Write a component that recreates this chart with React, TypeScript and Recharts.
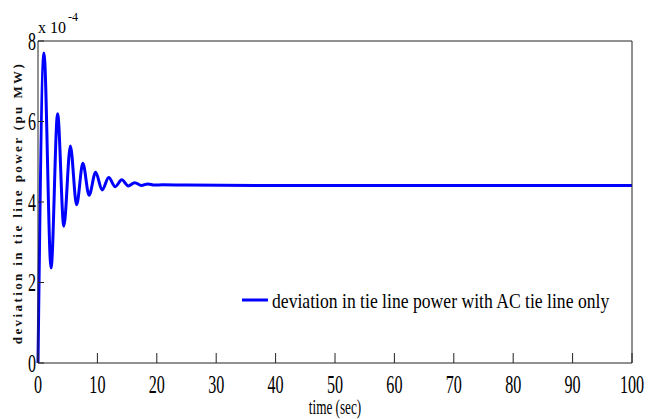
import React from "react";
import {
  LineChart,
  Line,
  XAxis,
  YAxis,
  Legend,
  Label,
} from "recharts";

// time in sec, deviation in units of 1e-4 pu MW
const timeSec = [
  0, 1.0, 2.2, 3.3, 4.35, 5.45, 6.5, 7.55, 8.6, 9.7, 10.8, 11.9, 13.0, 14.1,
  15.2, 16.3, 17.4, 18.5, 19.6, 21, 25, 40, 60, 80, 100,
];
const tieDev = [
  0, 7.7, 2.36, 6.19, 3.4, 5.39, 3.93, 4.96, 4.17, 4.74, 4.3, 4.61, 4.38, 4.55,
  4.4, 4.48, 4.41, 4.45, 4.42, 4.43, 4.42, 4.41, 4.41, 4.41, 4.41,
];
const xTicks = [0, 10, 20, 30, 40, 50, 60, 70, 80, 90, 100];
const yTicks = [0, 2, 4, 6, 8];

const seriesName = "deviation in tie line power with AC tie line only";

const data = timeSec.map((t, i) => ({ t, dev: tieDev[i] }));

const serif = "'Liberation Serif', 'Times New Roman', serif";

const BottomTick = ({ x, y, payload }: any) => (
  <g transform={`translate(${x},${y + 26}) scale(0.62,1)`}>
    <text x={0} y={0} textAnchor="middle" fontFamily={serif} fontSize={26} fill="#000">
      {payload.value}
    </text>
  </g>
);

const LeftTick = ({ x, y, payload }: any) => (
  <g transform={`translate(${x},${y + 8.5}) scale(0.64,1)`}>
    <text x={0} y={0} textAnchor="end" fontFamily={serif} fontSize={25} fill="#000">
      {payload.value}
    </text>
  </g>
);

// legend text is squeezed like in the original figure
const LegendBox = () => (
  <svg width={420} height={30}>
    <line x1={2} y1={14} x2={28} y2={14} stroke="#0000FF" strokeWidth={3} />
    <g transform="translate(32,22) scale(0.84,1)">
      <text x={0} y={0} fontFamily={serif} fontSize={21} fill="#000">
        {seriesName}
      </text>
    </g>
  </svg>
);

export default function App() {
  return (
    <div style={{ position: "absolute", left: 0, top: 0, background: "#fff" }}>
      <LineChart
        width={655}
        height={419}
        data={data}
        margin={{ top: 40, right: 22, left: 8, bottom: 16 }}
      >
        <XAxis
          dataKey="t"
          type="number"
          domain={[0, 100]}
          ticks={xTicks}
          height={40}
          tickSize={-10}
          tickMargin={14}
          tick={<BottomTick />}
          stroke="#222"
          interval={0}
        >
          <Label
            content={() => (
              <g transform="translate(335,414) scale(0.66,1)">
                <text x={0} y={0} textAnchor="middle" fontFamily={serif} fontSize={20} fill="#000">
                  time (sec)
                </text>
              </g>
            )}
          />
        </XAxis>
        <XAxis
          xAxisId="top"
          orientation="top"
          type="number"
          domain={[0, 100]}
          ticks={xTicks}
          height={1}
          tickSize={-10}
          tick={false}
          stroke="#222"
          interval={0}
        />
        <YAxis
          type="number"
          domain={[0, 8]}
          ticks={yTicks}
          width={30}
          tickSize={-6}
          tickMargin={8}
          tick={<LeftTick />}
          stroke="#222"
          interval={0}
        >
          <Label
            content={() => (
              <g>
                <text
                  transform="translate(22,203) rotate(-90)"
                  textAnchor="middle"
                  fontFamily={serif}
                  fontWeight="bold"
                  fontSize={13}
                  letterSpacing={2.4}
                  fill="#111"
                >
                  deviation in tie line power (pu MW)
                </text>
                <text x={38} y={33} fontFamily={serif} fontSize={16} fill="#000">
                  x 10
                </text>
                <text x={68} y={21} fontFamily={serif} fontSize={12} fill="#000">
                  -4
                </text>
              </g>
            )}
          />
        </YAxis>
        <YAxis
          yAxisId="right"
          orientation="right"
          type="number"
          domain={[0, 8]}
          ticks={yTicks}
          width={1}
          tickSize={-6}
          tick={false}
          stroke="#222"
          interval={0}
        />
        <Legend
          layout="horizontal"
          verticalAlign="middle"
          align="center"
          wrapperStyle={{ left: 240, top: 286, width: 420 }}
          content={() => <LegendBox />}
        />
        <Line
          type="monotone"
          dataKey="dev"
          name={seriesName}
          stroke="#0000FF"
          strokeWidth={3}
          dot={false}
          activeDot={false}
          isAnimationActive={false}
        />
      </LineChart>
    </div>
  );
}
